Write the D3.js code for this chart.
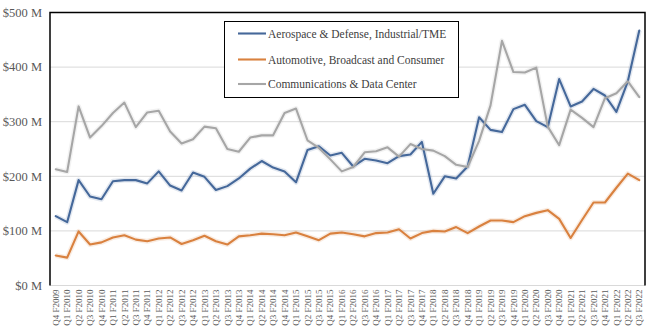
<!DOCTYPE html>
<html><head><meta charset="utf-8">
<script src="https://cdn.jsdelivr.net/npm/d3@7"></script>
<style>
html,body{margin:0;padding:0;background:#fff;}
svg{display:block;font-family:"Liberation Serif","Times New Roman",serif;}
</style></head>
<body><svg id="c" width="650" height="336"></svg>
<script>
const quarters = ["Q4 F2009",
 "Q1 F2010","Q2 F2010","Q3 F2010","Q4 F2010",
 "Q1 F2011","Q2 F2011","Q3 F2011","Q4 F2011",
 "Q1 F2012","Q2 F2012","Q3 F2012","Q4 F2012",
 "Q1 F2013","Q2 F2013","Q3 F2013","Q4 F2013",
 "Q1 F2014","Q2 F2014","Q3 F2014","Q4 F2014",
 "Q1 F2015","Q2 F2015","Q3 F2015","Q4 F2015",
 "Q1 F2016","Q2 F2016","Q3 F2016","Q4 F2016",
 "Q1 F2017","Q2 F2017","Q3 F2017","Q4 F2017",
 "Q1 F2018","Q2 F2018","Q3 F2018","Q4 F2018",
 "Q1 F2019","Q2 F2019","Q3 F2019","Q4 F2019",
 "Q1 F2020","Q2 F2020","Q3 F2020","Q4 F2020",
 "Q1 F2021","Q2 F2021","Q3 F2021","Q4 F2021",
 "Q1 F2022","Q2 F2022","Q3 F2022"];

const seriesNames = ["Aerospace & Defense, Industrial/TME","Automotive, Broadcast and Consumer","Communications & Data Center"];
const seriesColors = ["#45689A","#D9813F","#A6A6A6"];

const aerospace = [127,116,193,163,158,191,193,193,187,209,183,174,207,199,175,182,196,214,228,216,209,189,248,255,238,243,218,232,229,224,237,240,263,168,200,196,218,308,285,281,323,331,301,290,378,328,337,360,348,318,374,467];
const automotive = [55,51,99,75,79,88,92,84,81,86,88,76,83,91,81,75,90,92,95,94,92,97,90,83,95,97,94,90,96,97,103,86,96,100,99,107,96,108,119,119,116,127,133,138,122,87,120,152,152,179,205,193];
const communications = [213,208,328,271,292,316,335,290,317,320,282,260,268,291,288,250,245,271,275,275,316,324,266,252,231,209,217,244,246,253,236,259,250,247,237,221,217,265,330,448,391,390,399,291,257,322,307,290,343,352,374,345];

const yTicks = [0,100,200,300,400,500];
const yTickLabels = ["$0 M","$100 M","$200 M","$300 M","$400 M","$500 M"];

const svg = d3.select("#c");
const L=50, R=645, T=12.5, B=285.5;

const x = d3.scaleBand().domain(quarters).range([L,R]).padding(0);
const y = d3.scaleLinear().domain([0,500]).range([B,T]);
const cx = d => x(d) + x.bandwidth()/2;

// gridlines
svg.append("g").selectAll("line").data(yTicks).join("line")
  .attr("x1",L).attr("x2",R).attr("y1",d=>y(d)).attr("y2",d=>y(d))
  .attr("stroke","#D9D9D9").attr("stroke-width",1);

// y axis labels
svg.append("g").selectAll("text").data(yTicks).join("text")
  .attr("x",42).attr("y",d=>y(d)).attr("dy","0.35em")
  .attr("text-anchor","end").attr("font-size",12.5).attr("fill","#595959")
  .text((d,i)=>yTickLabels[i]);

// x axis labels
const xAxis = d3.axisBottom(x).tickSize(0).tickPadding(0);
const gx = svg.append("g").attr("transform",`translate(0,${B})`).call(xAxis);
gx.select(".domain").remove();
gx.selectAll("text")
  .attr("transform","rotate(-90)")
  .attr("x",-4).attr("y",0).attr("dy","0.35em")
  .attr("text-anchor","end")
  .attr("font-family","Liberation Serif, serif")
  .attr("font-size",9).attr("fill","#595959");

// frame
svg.append("path")
  .attr("d",`M${L},${B}V${T}H${R}V${B}`)
  .attr("fill","none").attr("stroke","#000").attr("stroke-width",1.5);

// lines
const data = [aerospace, automotive, communications];
const line = d3.line().x((d,i)=>cx(quarters[i])).y(d=>y(d));
// soft glow
data.forEach((s,k)=>{
  svg.append("path").datum(s).attr("d",line).attr("fill","none")
    .attr("stroke",seriesColors[k]).attr("stroke-opacity",0.15).attr("stroke-width",5)
    .attr("stroke-linejoin","round");
});
data.forEach((s,k)=>{
  svg.append("path").datum(s).attr("d",line).attr("fill","none")
    .attr("stroke",seriesColors[k]).attr("stroke-width",2.1)
    .attr("stroke-linejoin","round").attr("stroke-linecap","round");
});

// legend
const lg = svg.append("g");
lg.append("rect").attr("x",224.5).attr("y",21.5).attr("width",234).attr("height",76)
  .attr("fill","#fff").attr("stroke","#000").attr("stroke-width",1);
const rowsY = [33.5,59.5,84];
seriesNames.forEach((n,k)=>{
  lg.append("line").attr("x1",238).attr("x2",266).attr("y1",rowsY[k]).attr("y2",rowsY[k])
    .attr("stroke",seriesColors[k]).attr("stroke-width",2.1);
  lg.append("text").attr("x",268).attr("y",rowsY[k]).attr("dy","0.35em")
    .attr("font-size",11.5).attr("fill","#404040").text(n);
});
</script></body></html>
